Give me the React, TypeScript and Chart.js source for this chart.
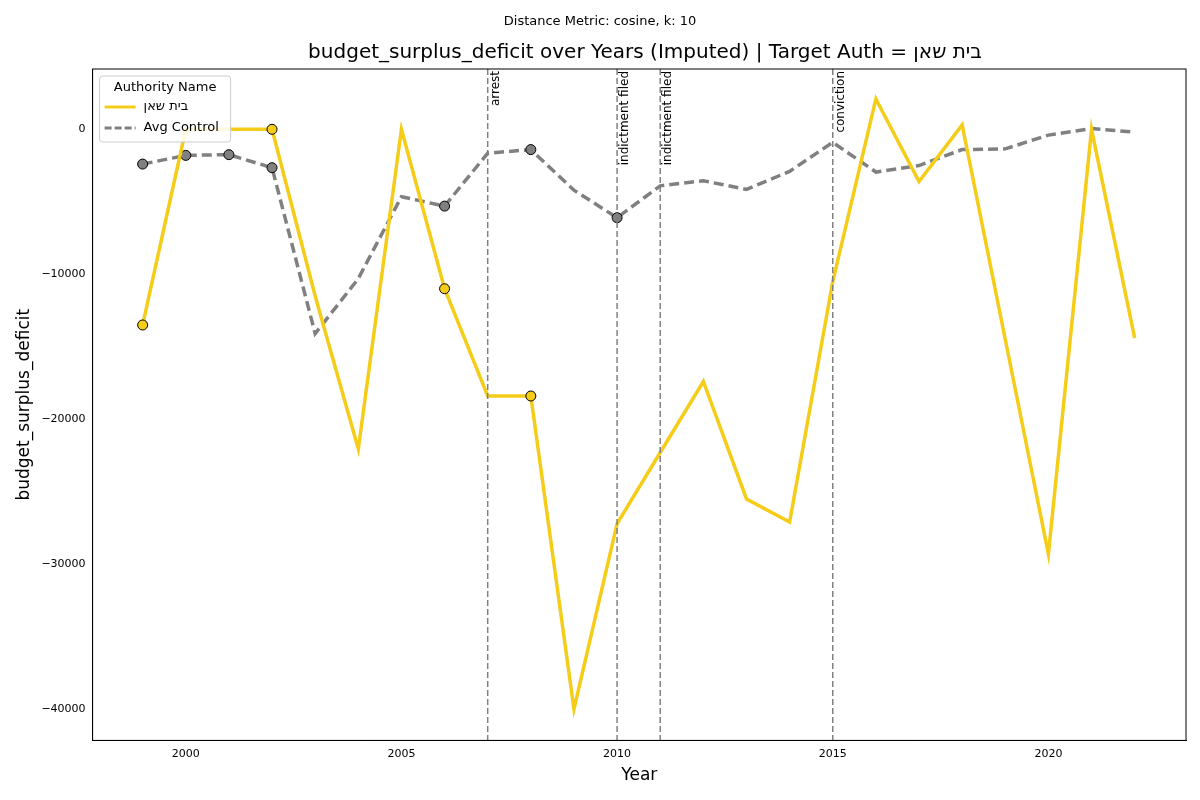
import React, { useEffect, useRef } from 'react';
import { Chart, registerables } from 'chart.js';

Chart.register(...registerables);

const years = [1999, 2000, 2001, 2002, 2003, 2004, 2005, 2006, 2007, 2008, 2009, 2010, 2011, 2012, 2013, 2014, 2015, 2016, 2017, 2018, 2019, 2020, 2021, 2022];
const targetValues = [-13500, 0, 0, 0, -11500, -22050, 0, -11000, -18400, -18400, -40000, -27200, -22300, -17400, -25500, -27100, -10500, 2100, -3600, 300, -14500, -29300, 0, -14400];
const controlValues = [-2400, -1800, -1750, -2650, -14100, -10300, -4650, -5300, -1650, -1400, -4200, -6100, -3900, -3550, -4150, -2900, -900, -2950, -2500, -1400, -1350, -400, 50, -200];
const targetMarkerYears = [1999, 2002, 2006, 2008];
const controlMarkerYears = [1999, 2000, 2001, 2002, 2006, 2008, 2010];
const eventYears = [2007, 2010, 2011, 2015];
const eventLabels = ['arrest', 'indictment filed', 'indictment filed', 'conviction'];
const authorityName = 'בית שאן';

const FONT = 'DejaVu Sans, sans-serif';
const YELLOW = '#f5cd19';
const GRAY = '#808080';

const overlay = {
  id: 'overlay',
  afterDatasetsDraw(chart: any) {
    const { ctx, chartArea, scales } = chart;
    const { left, right, top, bottom } = chartArea;
    ctx.save();
    // event lines
    eventYears.forEach((yr, i) => {
      const x = scales.x.getPixelForValue(yr);
      ctx.strokeStyle = GRAY;
      ctx.lineWidth = 1.5;
      ctx.setLineDash([6, 3]);
      ctx.beginPath();
      ctx.moveTo(x, top);
      ctx.lineTo(x, bottom);
      ctx.stroke();
      ctx.setLineDash([]);
      ctx.save();
      ctx.translate(x + 2, top + 2);
      ctx.rotate(-Math.PI / 2);
      ctx.fillStyle = '#000';
      ctx.font = `12px ${FONT}`;
      ctx.textAlign = 'right';
      ctx.textBaseline = 'top';
      ctx.fillText(eventLabels[i], 0, 0);
      ctx.restore();
    });
    // frame
    ctx.strokeStyle = '#000';
    ctx.lineWidth = 1;
    ctx.strokeRect(left, top, right - left, bottom - top);
    // titles
    ctx.fillStyle = '#000';
    ctx.textAlign = 'center';
    ctx.textBaseline = 'middle';
    ctx.font = `13px ${FONT}`;
    ctx.fillText('Distance Metric: cosine, k: 10', 600, 22);
    ctx.font = `20px ${FONT}`;
    ctx.fillText(`budget_surplus_deficit over Years (Imputed) | Target Auth = ${authorityName}`, 645, 53);
    // legend
    const lx = left + 7, ly = top + 7, lw = 131, lh = 66;
    ctx.fillStyle = 'rgba(255,255,255,0.85)';
    ctx.strokeStyle = '#ccc';
    ctx.beginPath();
    ctx.roundRect(lx, ly, lw, lh, 3);
    ctx.fill();
    ctx.stroke();
    ctx.fillStyle = '#000';
    ctx.font = `13px ${FONT}`;
    ctx.textAlign = 'center';
    ctx.fillText('Authority Name', lx + lw / 2, ly + 12);
    ctx.textAlign = 'left';
    const items = [
      { label: authorityName, color: YELLOW, dash: [] as number[] },
      { label: 'Avg Control', color: GRAY, dash: [7, 3] },
    ];
    items.forEach((it, i) => {
      const yy = ly + 31 + i * 21;
      ctx.strokeStyle = it.color;
      ctx.lineWidth = 3;
      ctx.setLineDash(it.dash);
      ctx.beginPath();
      ctx.moveTo(lx + 5, yy);
      ctx.lineTo(lx + 36, yy);
      ctx.stroke();
      ctx.setLineDash([]);
      ctx.fillStyle = '#000';
      ctx.fillText(it.label, lx + 44, yy);
    });
    ctx.restore();
  },
};

export default function App() {
  const ref = useRef<HTMLCanvasElement>(null);
  useEffect(() => {
    document.body.style.margin = '0';
    if (!ref.current) return;
    const tgt = years.map((y, i) => ({ x: y, y: targetValues[i] }));
    const ctl = years.map((y, i) => ({ x: y, y: controlValues[i] }));
    const chart = new Chart(ref.current, {
      type: 'line',
      data: {
        datasets: [
          {
            label: 'Avg Control',
            data: ctl,
            borderColor: GRAY,
            borderWidth: 3.5,
            borderDash: [10, 5],
            pointRadius: years.map(y => (controlMarkerYears.includes(y) ? 5 : 0)),
            pointBackgroundColor: GRAY,
            pointBorderColor: '#000',
            pointBorderWidth: 1,
            order: 2,
          },
          {
            label: authorityName,
            data: tgt,
            borderColor: YELLOW,
            borderWidth: 3.5,
            pointRadius: years.map(y => (targetMarkerYears.includes(y) ? 5 : 0)),
            pointBackgroundColor: YELLOW,
            pointBorderColor: '#000',
            pointBorderWidth: 1,
            order: 1,
          },
        ],
      },
      options: {
        animation: false,
        responsive: false,
        layout: { padding: { top: 69, right: 14, left: 10, bottom: 10 } },
        plugins: { legend: { display: false }, title: { display: false }, tooltip: { enabled: false } },
        scales: {
          x: {
            type: 'linear',
            min: 1997.84,
            max: 2023.19,
            grid: { display: false, drawTicks: true, tickLength: 4 } as any,
            border: { color: '#000' },
            afterBuildTicks: (axis: any) => {
              axis.ticks = [2000, 2005, 2010, 2015, 2020].map(v => ({ value: v }));
            },
            ticks: { color: '#000', font: { family: FONT, size: 11 }, callback: (v: any) => String(v), maxRotation: 0 },
            title: { display: true, text: 'Year', color: '#000', font: { family: FONT, size: 17 }, padding: { top: 2 } },
          },
          y: {
            min: -42160,
            max: 4160,
            grid: { display: false, drawTicks: true, tickLength: 4 } as any,
            border: { color: '#000' },
            afterBuildTicks: (axis: any) => {
              axis.ticks = [-40000, -30000, -20000, -10000, 0].map(v => ({ value: v }));
            },
            ticks: {
              color: '#000',
              font: { family: FONT, size: 11 },
              callback: (v: any) => (v < 0 ? '\u2212' + String(-v) : String(v)),
            },
            title: { display: true, text: 'budget_surplus_deficit', color: '#000', font: { family: FONT, size: 17 } },
          },
        },
      },
      plugins: [overlay],
    });
    return () => chart.destroy();
  }, []);
  return <canvas ref={ref} width={1200} height={800} style={{ display: 'block' }} />;
}
